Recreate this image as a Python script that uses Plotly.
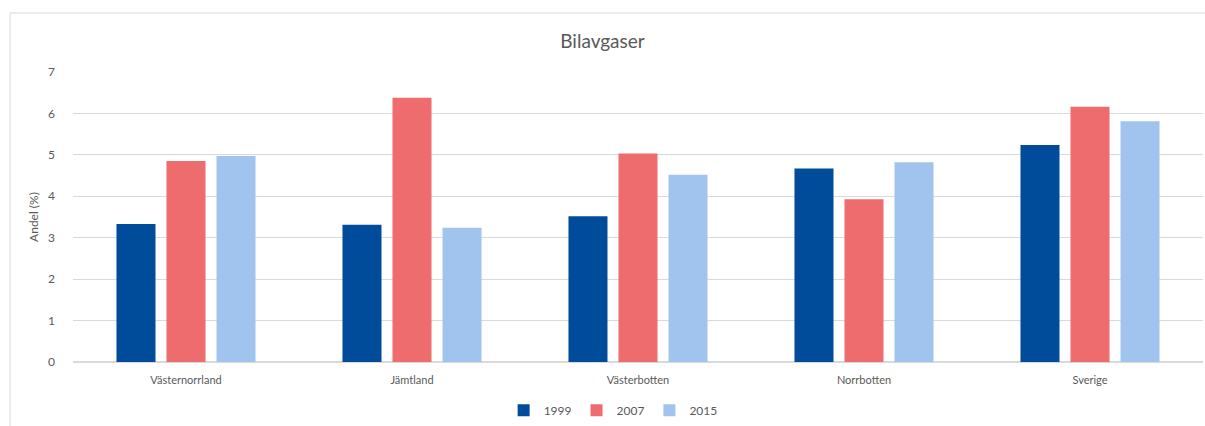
import plotly.graph_objects as go

categories = ["Västernorrland", "Jämtland", "Västerbotten", "Norrbotten", "Sverige"]
years = ["1999", "2007", "2015"]
values_1999 = [3.33, 3.31, 3.52, 4.67, 5.24]
values_2007 = [4.85, 6.38, 5.03, 3.93, 6.16]
values_2015 = [4.97, 3.24, 4.52, 4.82, 5.81]
y_ticks = [0, 1, 2, 3, 4, 5, 6, 7]

colors = ["#004C9B", "#EE6B6E", "#A0C4EE"]
series = [values_1999, values_2007, values_2015]

fig = go.Figure()
for name, vals, col in zip(years, series, colors):
    fig.add_trace(go.Bar(x=categories, y=vals, name=name, marker=dict(color=col, line=dict(width=0))))

font_family = "Lato, 'Open Sans', sans-serif"
fig.update_layout(
    width=1205, height=426,
    margin=dict(l=73, r=2, t=72, b=64, autoexpand=False),
    paper_bgcolor="white", plot_bgcolor="white",
    barmode="group", bargap=0.336, bargroupgap=0.22,
    title=dict(text="Bilavgaser", x=0.5, xanchor="center", y=1 - 41 / 426, yanchor="middle",
               font=dict(family=font_family, size=19, color="#595959")),
    font=dict(family=font_family, size=11, color="#595959"),
    legend=dict(orientation="h", x=0.478, xanchor="center", y=-0.166, yanchor="middle",
                font=dict(size=12, color="#595959"), traceorder="normal", itemwidth=30,
                tracegroupgap=0),
    xaxis=dict(showgrid=False, showline=True, linecolor="#d9d9d9", linewidth=1, ticks="",
               ticklabelstandoff=8,
               tickfont=dict(size=11, color="#595959")),
    yaxis=dict(range=[0, 7], tickvals=y_ticks, showgrid=True, gridcolor="#d9d9d9", gridwidth=1,
               zeroline=True, zerolinecolor="#d9d9d9", showline=False, ticks="",
               ticklabelstandoff=17,
               title=dict(text="Andel (%)", font=dict(size=12, color="#595959"), standoff=6),
               tickfont=dict(size=12, color="#595959")),
    shapes=[dict(type="rect", xref="paper", yref="paper",
                 x0=(10 - 73) / 1130, x1=1.02, y0=-0.3, y1=1 + 59 / 290,
                 line=dict(color="#d9d9d9", width=1), fillcolor="rgba(0,0,0,0)", layer="below")],
)

fig.write_html("out.html", config={"displayModeBar": False},
               post_script="document.body.style.margin='0';")
